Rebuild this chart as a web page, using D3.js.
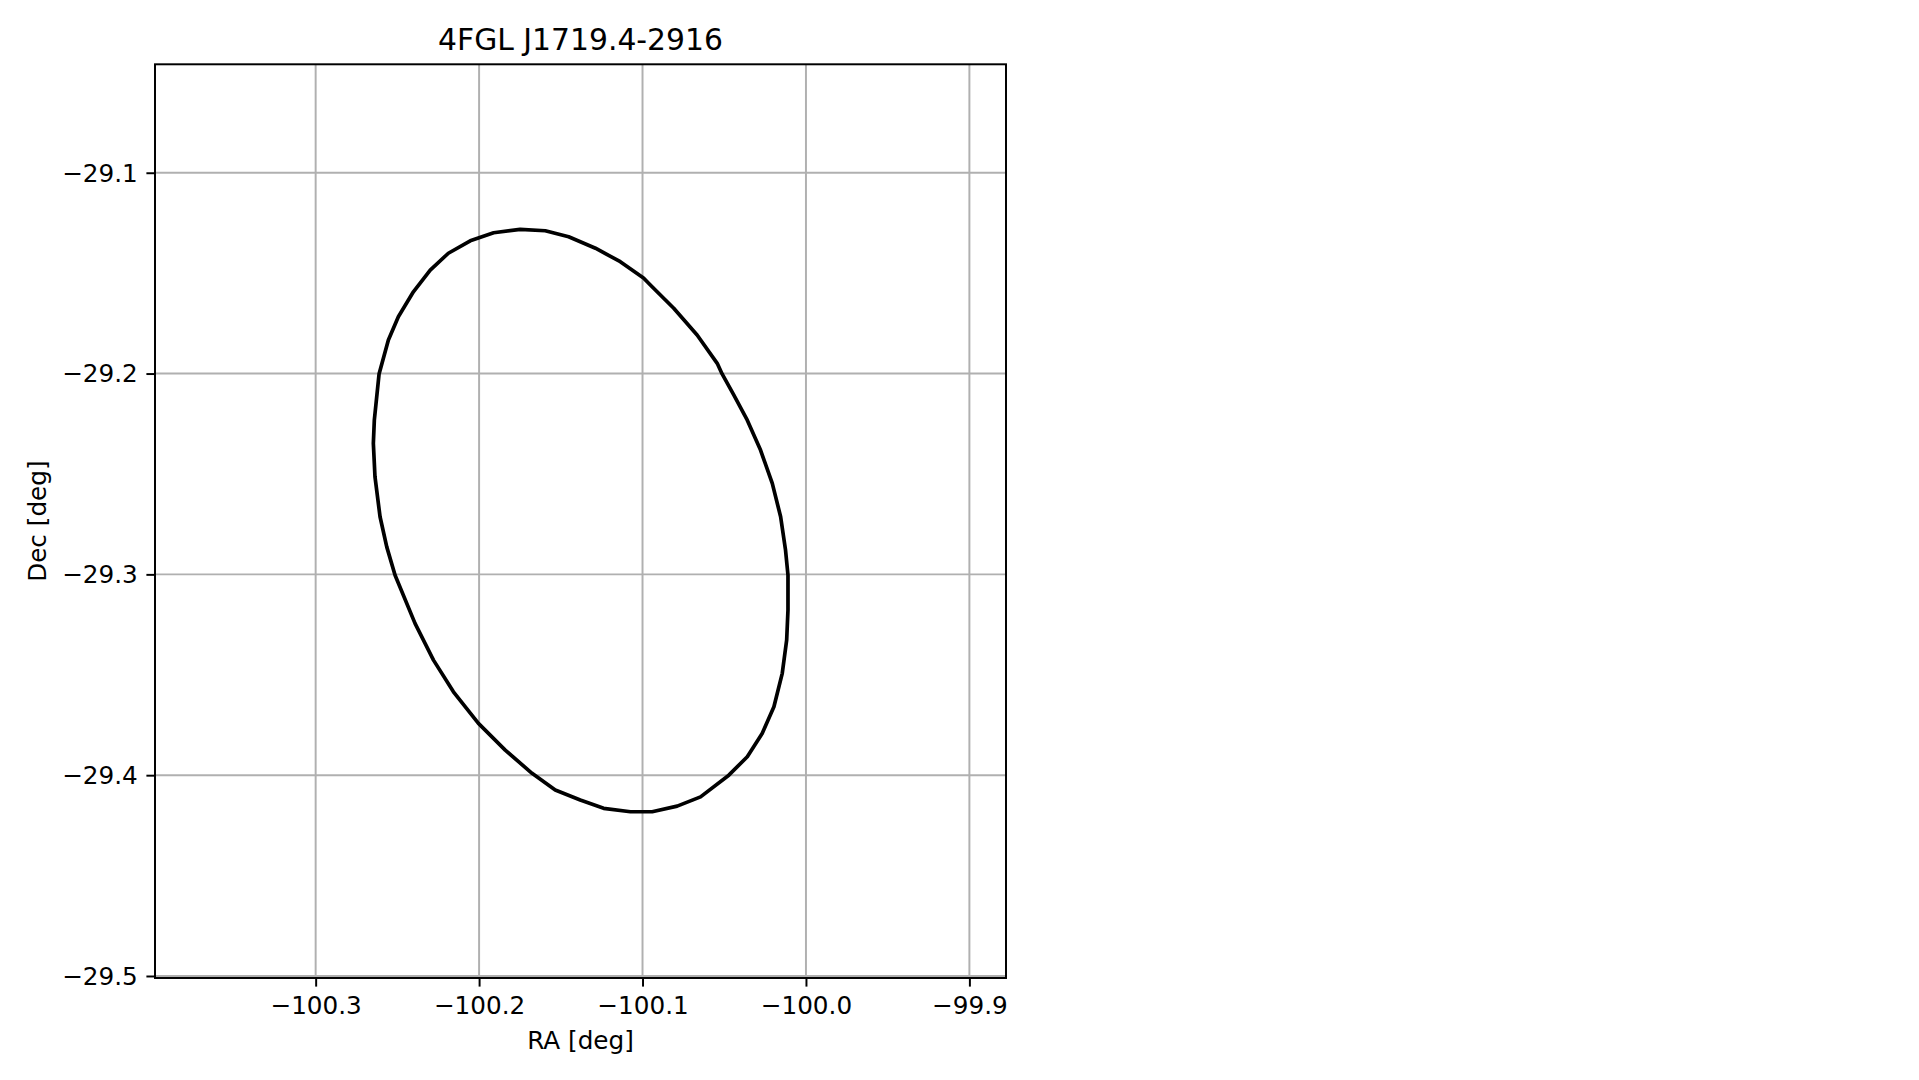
<!DOCTYPE html>
<html>
<head>
<meta charset="utf-8">
<script src="https://cdn.jsdelivr.net/npm/d3@7"></script>
<style>
  html, body { margin: 0; padding: 0; background: #fff; }
  svg { display: block; }
  text { font-family: "DejaVu Sans", sans-serif; fill: #000; }
</style>
</head>
<body>
<svg id="chart" width="1919" height="1080"></svg>
<script>
const title = "4FGL J1719.4-2916";
const xLabel = "RA [deg]";
const yLabel = "Dec [deg]";
const xTicks = [-100.3, -100.2, -100.1, -100.0, -99.9];
const yTicks = [-29.1, -29.2, -29.3, -29.4, -29.5];
const xDomain = [-100.3983, -99.8776];
const yDomain = [-29.501, -29.046];

// Error ellipse contour (RA, Dec)
const ellipseRA = [
  -100.1749, -100.1595, -100.1452, -100.1288, -100.1136, -100.0994, -100.0952, -100.0809,
  -100.0666, -100.0543, -100.0513, -100.0441, -100.0359, -100.0278, -100.0206, -100.0155,
  -100.0125, -100.0110, -100.0110, -100.0118, -100.0145, -100.0196, -100.0268, -100.0359,
  -100.0472, -100.0645, -100.0788, -100.0941, -100.1074, -100.1238, -100.1381, -100.1534,
  -100.1676, -100.1840, -100.2004, -100.2157, -100.2279, -100.2392, -100.2514, -100.2565,
  -100.2606, -100.2637, -100.2647, -100.2641, -100.2612, -100.2555, -100.2494, -100.2402,
  -100.2299, -100.2188, -100.2054, -100.1911
];
const ellipseDec = [
  -29.1282, -29.1289, -29.1319, -29.1376, -29.1443, -29.1524, -29.1559, -29.1675,
  -29.1808, -29.1949, -29.2002, -29.2107, -29.2232, -29.2381, -29.2547, -29.2713,
  -29.2879, -29.3004, -29.3178, -29.3327, -29.3493, -29.3659, -29.3792, -29.3908,
  -29.4000, -29.4108, -29.4154, -29.4182, -29.4182, -29.4165, -29.4124, -29.4074,
  -29.3991, -29.3875, -29.3742, -29.3585, -29.3427, -29.3244, -29.3004, -29.2863,
  -29.2713, -29.2514, -29.2348, -29.2232, -29.2002, -29.1833, -29.1717, -29.1593,
  -29.1485, -29.1401, -29.1339, -29.1299
];

const margin = { left: 155, right: 1919 - 1006, top: 64.3, bottom: 1080 - 978 };
const W = 1919, H = 1080;
const iw = W - margin.left - margin.right;
const ih = H - margin.top - margin.bottom;

const svg = d3.select("#chart");
svg.append("rect").attr("width", W).attr("height", H).attr("fill", "#fff");

const g = svg.append("g").attr("transform", `translate(${margin.left},${margin.top})`);

const x = d3.scaleLinear().domain(xDomain).range([0, iw]);
const y = d3.scaleLinear().domain(yDomain).range([ih, 0]);

const fmt = v => {
  const s = Math.abs(v).toFixed(1);
  return (v < 0 ? "\u2212" : "") + s;
};

const lw = 1.97;
const tickLen = 8.6;
const pad = 8.6;
const fs = 24.7;

// Grid
g.append("g").selectAll("line").data(xTicks).join("line")
  .attr("x1", d => x(d)).attr("x2", d => x(d)).attr("y1", 0).attr("y2", ih)
  .attr("stroke", "#b0b0b0").attr("stroke-width", lw);
g.append("g").selectAll("line").data(yTicks).join("line")
  .attr("x1", 0).attr("x2", iw).attr("y1", d => y(d)).attr("y2", d => y(d))
  .attr("stroke", "#b0b0b0").attr("stroke-width", lw);

// Ellipse
const pts = ellipseRA.map((ra, i) => [ra, ellipseDec[i]]);
const line = d3.line().x(d => x(d[0])).y(d => y(d[1])).curve(d3.curveLinearClosed);
g.append("path").datum(pts).attr("d", line)
  .attr("fill", "none").attr("stroke", "#000").attr("stroke-width", 3.7)
  .attr("stroke-linejoin", "round");

// Axes
const xAxis = d3.axisBottom(x).tickValues(xTicks).tickFormat(fmt).tickSize(tickLen).tickPadding(pad);
const yAxis = d3.axisLeft(y).tickValues(yTicks).tickFormat(fmt).tickSize(tickLen).tickPadding(pad);

const gx = g.append("g").attr("transform", `translate(0,${ih})`).call(xAxis);
const gy = g.append("g").call(yAxis);
[gx, gy].forEach(a => {
  a.select(".domain").remove();
  a.selectAll(".tick line").attr("stroke", "#000").attr("stroke-width", lw);
  a.selectAll(".tick text").attr("font-family", "DejaVu Sans").attr("font-size", fs).attr("fill", "#000");
});
gx.selectAll(".tick text").attr("dy", null).attr("y", tickLen + pad).attr("dominant-baseline", "hanging");
gy.selectAll(".tick text").attr("dy", "0.34em");

// Spines
g.append("rect").attr("x", 0).attr("y", 0).attr("width", iw).attr("height", ih)
  .attr("fill", "none").attr("stroke", "#000").attr("stroke-width", lw);

// Title and labels
svg.append("text").attr("x", margin.left + iw / 2).attr("y", 50)
  .attr("text-anchor", "middle").attr("font-size", 29.8).text(title);
svg.append("text").attr("x", margin.left + iw / 2).attr("y", 1048.5)
  .attr("text-anchor", "middle").attr("font-size", fs).text(xLabel);
svg.append("text").attr("transform", `translate(46,${margin.top + ih / 2}) rotate(-90)`)
  .attr("text-anchor", "middle").attr("font-size", fs).text(yLabel);
</script>
</body>
</html>
